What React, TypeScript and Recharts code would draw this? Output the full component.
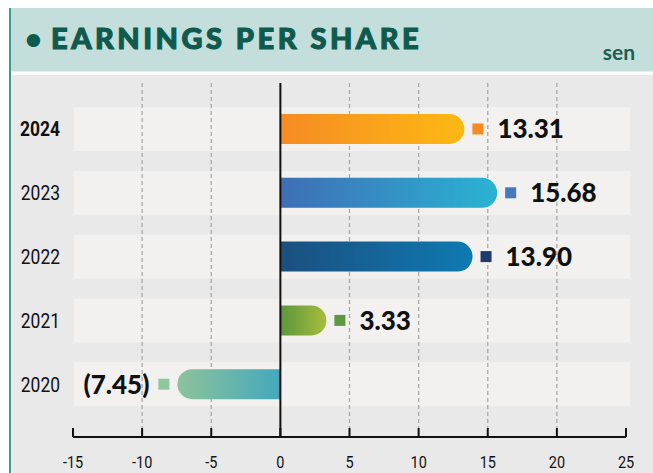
import React from "react";
import { BarChart, Bar, XAxis, YAxis, CartesianGrid, ReferenceLine, LabelList } from "recharts";

// EPS in sen, newest first (as drawn top to bottom)
const years = ["2024", "2023", "2022", "2021", "2020"];
const eps = [13.31, 15.68, 13.9, 3.33, -7.45];
const barLeftColors = ["#f68b23", "#3f6eb5", "#1b4f7f", "#5b963e", "#8dc39b"];
const barRightColors = ["#fdb913", "#2ab3d3", "#0f7ab2", "#a8bd3c", "#44a8bc"];
const markerColors = ["#f68b23", "#4479be", "#1e3a6e", "#5b9a41", "#8ec69e"];
const xTicks = [-15, -10, -5, 0, 5, 10, 15, 20, 25];
const gridValues = [-10, -5, 5, 10, 15, 20];

const data = years.map((year, i) => ({ year, value: eps[i], idx: i }));

const W = 653;
const H = 473;
const condensed = "Roboto, sans-serif";
const margin = { top: 83, right: 27, bottom: 0, left: 0 };
const yPadding = { top: 14, bottom: 21 };

function PillBar(props: any) {
  const { x, y, width, height, payload } = props;
  const i = payload.idx;
  const left = Math.min(x, x + width);
  const right = Math.max(x, x + width);
  const r = height / 2;
  const b = y + height;
  const d =
    payload.value >= 0
      ? `M${left},${y} L${right - r},${y} A${r},${r} 0 0 1 ${right - r},${b} L${left},${b} Z`
      : `M${right},${y} L${left + r},${y} A${r},${r} 0 0 0 ${left + r},${b} L${right},${b} Z`;
  return (
    <g>
      <defs>
        <linearGradient id={`eps-grad-${i}`} x1="0" y1="0" x2="1" y2="0">
          <stop offset="0%" stopColor={barLeftColors[i]} />
          <stop offset="100%" stopColor={barRightColors[i]} />
        </linearGradient>
      </defs>
      <path d={d} fill={`url(#eps-grad-${i})`} />
    </g>
  );
}

function ValueLabel(props: any) {
  const { x, y, width, height, value } = props;
  const i = eps.indexOf(value);
  const left = Math.min(x, x + width);
  const right = Math.max(x, x + width);
  const cy = y + height / 2;
  const sq = 11;
  const gap = 8;
  const textStyle = {
    fontFamily: "Lato, sans-serif",
    fontWeight: 900,
    fontSize: 26,
    fill: "#111",
  };
  if (value < 0) {
    const sx = left - gap - sq;
    return (
      <g>
        <rect x={sx} y={cy - sq / 2} width={sq} height={sq} fill={markerColors[i]} />
        <text x={sx - 9} y={cy} dy="0.36em" textAnchor="end" {...textStyle}>
          ({Math.abs(value).toFixed(2)})
        </text>
      </g>
    );
  }
  const sx = right + gap;
  return (
    <g>
      <rect x={sx} y={cy - sq / 2} width={sq} height={sq} fill={markerColors[i]} />
      <text x={sx + sq + 14} y={cy} dy="0.36em" textAnchor="start" {...textStyle}>
        {value.toFixed(2)}
      </text>
    </g>
  );
}

function RowBand(props: any) {
  const { x, y, width, height } = props;
  return <rect x={x + 1} y={y - 7} width={width + 3} height={height + 14} fill="#f2f1ef" />;
}

function YearTick(props: any) {
  const { x, y, payload } = props;
  return (
    <text
      transform={`translate(${x},${y}) scale(0.83,1)`}
      dy="0.36em"
      textAnchor="end"
      fontFamily={condensed}
      fontSize={21}
      fontWeight={payload.value === "2024" ? 700 : 400}
      fill="#111"
    >
      {payload.value}
    </text>
  );
}

function ValueTick(props: any) {
  const { x, y, payload } = props;
  return (
    <text
      transform={`translate(${x},${y}) scale(0.85,1)`}
      dy="0.71em"
      textAnchor="middle"
      fontFamily={condensed}
      fontSize={17}
      fill="#111"
    >
      {payload.value}
    </text>
  );
}

export default function App() {
  return (
    <div style={{ position: "absolute", left: 0, top: 0, width: W, height: H, background: "#fff" }}>
      <svg width={W} height={H} style={{ position: "absolute", left: 0, top: 0 }}>
        <rect x={11} y={8} width={W - 11} height={63.5} fill="#c4dfdb" />
        <rect x={11} y={75} width={W - 11} height={H - 75} fill="#e9e9e9" />
        <rect x={9} y={8} width={2} height={H - 8} fill="#3d9c8d" />
        <text x={25} y={49} fontFamily="Lato, sans-serif" fontWeight={900} fontSize={29} fill="#0f5a4e">
          •
        </text>
        <text
          x={51}
          y={49.3}
          fontFamily="Lato, sans-serif"
          fontWeight={900}
          fontSize={29}
          letterSpacing={3.5}
          fill="#0f5a4e"
          stroke="#0f5a4e"
          strokeWidth={1.1}
        >
          EARNINGS PER SHARE
        </text>
        <text x={635} y={60} textAnchor="end" fontFamily="Lato, sans-serif" fontWeight={700} fontSize={21} fill="#1b5e54">
          sen
        </text>
      </svg>

      {/* row bands, underneath the grid */}
      <div style={{ position: "absolute", left: 0, top: 0 }}>
        <BarChart layout="vertical" data={data} width={W} height={H} margin={margin}>
          <XAxis type="number" domain={[-15, 25]} ticks={xTicks} height={36} tick={false} axisLine={false} tickLine={false} />
          <YAxis type="category" dataKey="year" width={73} padding={yPadding} tick={false} axisLine={false} tickLine={false} />
          <Bar dataKey="value" barSize={30} fill="none" background={RowBand} isAnimationActive={false} />
        </BarChart>
      </div>

      <div style={{ position: "absolute", left: 0, top: 0 }}>
        <BarChart layout="vertical" data={data} width={W} height={H} margin={margin}>
          <CartesianGrid horizontal={false} verticalValues={gridValues} stroke="#a9a9a9" strokeWidth={1.3} strokeDasharray="4 3" />
          <XAxis
            type="number"
            domain={[-15, 25]}
            ticks={xTicks}
            interval={0}
            height={36}
            tickSize={-9}
            tickMargin={28}
            axisLine={{ stroke: "#111", strokeWidth: 2 }}
            tickLine={{ stroke: "#111", strokeWidth: 2 }}
            tick={ValueTick}
          />
          <YAxis
            type="category"
            dataKey="year"
            width={73}
            padding={yPadding}
            tickSize={0}
            tickMargin={13}
            axisLine={false}
            tickLine={false}
            tick={YearTick}
          />
          <Bar dataKey="value" barSize={30} shape={PillBar} isAnimationActive={false}>
            <LabelList dataKey="value" content={ValueLabel} />
          </Bar>
          <ReferenceLine x={0} stroke="#111" strokeWidth={2} />
        </BarChart>
      </div>
    </div>
  );
}
